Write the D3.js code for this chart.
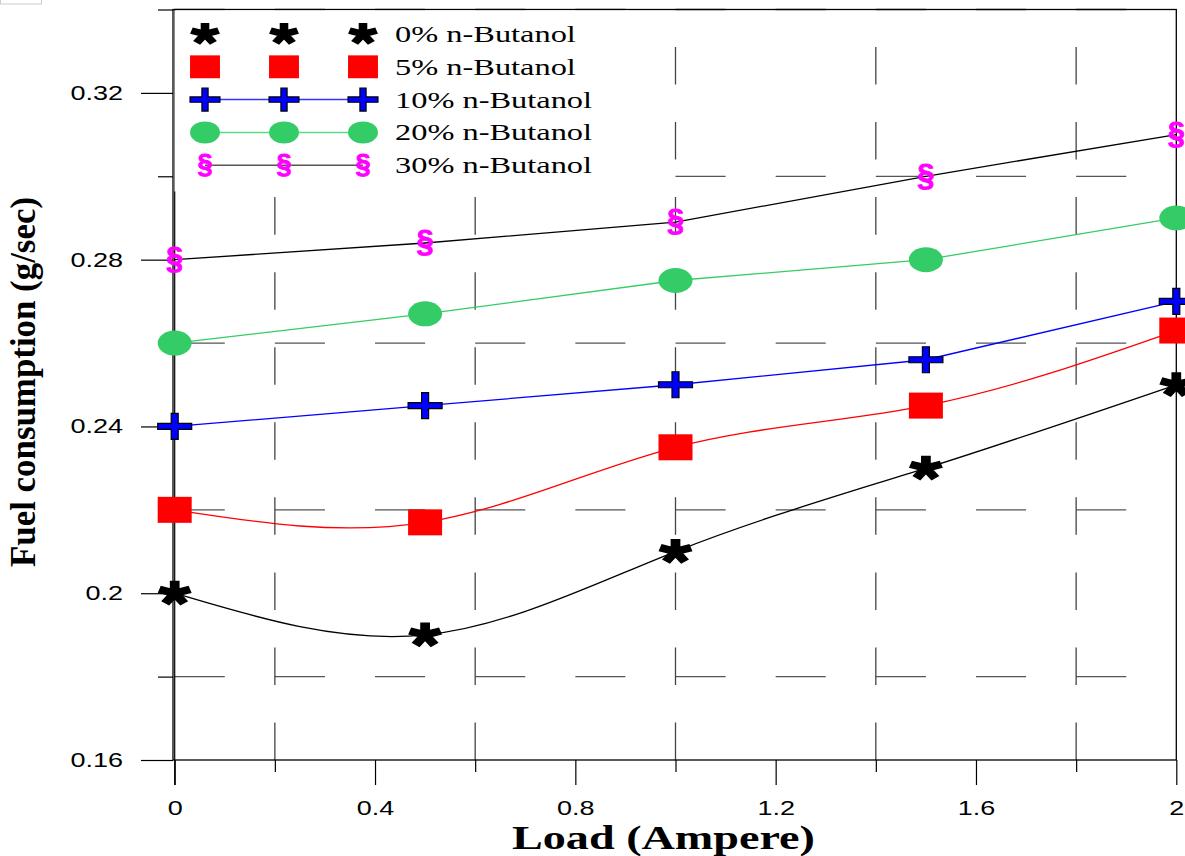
<!DOCTYPE html>
<html><head><meta charset="utf-8">
<script src="https://cdn.jsdelivr.net/npm/d3@7"></script>
<style>body{margin:0;background:#fff}svg{display:block}</style>
</head><body>
<svg id="c" width="1185" height="856"></svg>
<script>
// ---- data ----
const loads = [0, 0.5, 1, 1.5, 2];
const fuel0  = [0.20, 0.19, 0.21, 0.23, 0.25];
const fuel5  = [0.22, 0.217, 0.235, 0.245, 0.263];
const fuel10 = [0.24, 0.245, 0.25, 0.256, 0.27];
const fuel20 = [0.26, 0.267, 0.275, 0.28, 0.29];
const fuel30 = [0.28, 0.284, 0.289, 0.30, 0.31];
const seriesNames = ["0% n-Butanol", "5% n-Butanol", "10% n-Butanol", "20% n-Butanol", "30% n-Butanol"];
const xMajorTicks = [0, 0.4, 0.8, 1.2, 1.6, 2];
const xMinorTicks = [0.2, 0.6, 1.0, 1.4, 1.8];
const yMajorTicks = [0.16, 0.2, 0.24, 0.28, 0.32];
const yMinorTicks = [0.18, 0.22, 0.26, 0.30, 0.34];
const xTitle = "Load (Ampere)";
const yTitle = "Fuel consumption (g/sec)";

const series = [
  {name: seriesNames[0], values: fuel0,  color: "#000000", curve: d3.curveNatural, marker: "asterisk", legendLine: null},
  {name: seriesNames[1], values: fuel5,  color: "#ff0000", curve: d3.curveNatural, marker: "square",   legendLine: null},
  {name: seriesNames[2], values: fuel10, color: "#0000ff", curve: d3.curveLinear,  marker: "plus",     legendLine: "#3333ff"},
  {name: seriesNames[3], values: fuel20, color: "#33cc66", curve: d3.curveLinear,  marker: "circle",   legendLine: "#55dd88"},
  {name: seriesNames[4], values: fuel30, color: "#000000", curve: d3.curveLinear,  marker: "section",  legendLine: "#555555"}
];

const svg = d3.select("#c");
const x = d3.scaleLinear().domain([0, 2]).range([174.7, 1176.3]);
const y = d3.scaleLinear().domain([0.16, 0.34]).range([760, 9.5]);

function stretch(sel, f) {
  sel.each(function () {
    const w = this.getComputedTextLength();
    this.setAttribute("textLength", w * f);
    this.setAttribute("lengthAdjust", "spacingAndGlyphs");
  });
}

// small grey box in the corner
svg.append("rect").attr("x", 0.5).attr("y", -1).attr("width", 41).attr("height", 5)
  .attr("fill", "none").attr("stroke", "#cccccc");

// ---- dashed grid ----
const dashX = x(0.1) - x(0);
svg.append("g").selectAll("line").data(yMinorTicks).join("line")
  .attr("x1", x(0)).attr("x2", x(2)).attr("y1", d => y(d)).attr("y2", d => y(d))
  .attr("stroke", "#555").attr("stroke-width", 1.3)
  .attr("stroke-dasharray", `${dashX},${dashX}`);
const dashY = (y(0.16) - y(0.34)) / 20;
svg.append("g").selectAll("line").data(xMinorTicks).join("line")
  .attr("x1", d => x(d)).attr("x2", d => x(d)).attr("y1", y(0.16)).attr("y2", y(0.34))
  .attr("stroke", "#444").attr("stroke-width", 1.3)
  .attr("stroke-dasharray", `${dashY},${dashY}`);

// vertical line at x=0
svg.append("line").attr("x1", x(0)).attr("x2", x(0)).attr("y1", y(0.34)).attr("y2", 785)
  .attr("stroke", "#000").attr("stroke-width", 1.2);

// ---- axes ----
const fontSans = "'Liberation Sans', Arial, sans-serif";
const fontSerif = "'Liberation Serif', 'Times New Roman', serif";

const gx = svg.append("g").attr("transform", `translate(0,${y(0.16)})`)
  .call(d3.axisBottom(x).tickValues(xMajorTicks).tickSize(25).tickPadding(16).tickFormat(d => String(d)));
gx.select(".domain").remove();
gx.selectAll("line").attr("stroke", "#000").attr("stroke-width", 1.2);
gx.selectAll("text").attr("font-family", fontSans).attr("font-size", 20).attr("fill", "#000").call(stretch, 1.35);

const gxm = svg.append("g").attr("transform", `translate(0,${y(0.16)})`)
  .call(d3.axisBottom(x).tickValues(xMinorTicks).tickSize(12).tickFormat(""));
gxm.select(".domain").remove();
gxm.selectAll("line").attr("stroke", "#000").attr("stroke-width", 1.2);

const gy = svg.append("g").attr("transform", `translate(173,0)`)
  .call(d3.axisLeft(y).tickValues(yMajorTicks).tickSize(32).tickPadding(18).tickFormat(d => String(d)));
gy.select(".domain").remove();
gy.selectAll("line").attr("stroke", "#000").attr("stroke-width", 1.2);
gy.selectAll("text").attr("font-family", fontSans).attr("font-size", 20).attr("fill", "#000").call(stretch, 1.35);

const gym = svg.append("g").attr("transform", `translate(173,0)`)
  .call(d3.axisLeft(y).tickValues(yMinorTicks).tickSize(15).tickFormat(""));
gym.select(".domain").remove();
gym.selectAll("line").attr("stroke", "#000").attr("stroke-width", 1.2);

// frame
svg.append("rect").attr("x", 173).attr("y", y(0.34)).attr("width", x(2) - 173).attr("height", y(0.16) - y(0.34))
  .attr("fill", "none").attr("stroke", "#000").attr("stroke-width", 1.3);

// ---- markers ----
function drawMarker(g, type, cx, cy, s, color) {
  if (type === "asterisk") {
    const r = 12.5;
    let d = "";
    [-90, -18, 54, 126, 198].forEach(a => {
      const rad = a * Math.PI / 180;
      d += `M0,0L${r * Math.cos(rad)},${r * Math.sin(rad)}`;
    });
    g.append("path").attr("d", d).attr("transform", `translate(${cx},${cy}) scale(${1.3 * s},${s})`)
      .attr("stroke", "#000").attr("stroke-width", 7.5).attr("fill", "none");
  } else if (type === "square") {
    const w = 34 * s, h = 26 * s;
    g.append("rect").attr("x", cx - w / 2).attr("y", cy - h / 2).attr("width", w).attr("height", h)
      .attr("fill", "#ff0000");
  } else if (type === "circle") {
    g.append("ellipse").attr("cx", cx).attr("cy", cy).attr("rx", 17 * s).attr("ry", 12.5 * s)
      .attr("fill", "#33cc66");
  } else if (type === "plus") {
    const W = 17 * s, H = 13 * s, th = 3 * s, tv = 3.5 * s;
    const p = [[-tv, -H], [tv, -H], [tv, -th], [W, -th], [W, th], [tv, th], [tv, H], [-tv, H], [-tv, th], [-W, th], [-W, -th], [-tv, -th]];
    g.append("path").attr("d", "M" + p.map(q => `${cx + q[0]},${cy + q[1]}`).join("L") + "Z")
      .attr("fill", "#0000ff").attr("stroke", "#000").attr("stroke-width", 1.2);
  } else if (type === "section") {
    const fs = 31 * s;
    g.append("text").attr("x", cx).attr("y", cy + 0.3 * fs).attr("text-anchor", "middle")
      .attr("font-family", fontSans).attr("font-weight", "bold").attr("font-size", fs)
      .attr("fill", "#ff00ff").attr("stroke", "#ff00ff").attr("stroke-width", 0.9).text("§");
  }
}

// ---- lines ----
series.forEach(sr => {
  const line = d3.line().x((d, i) => x(loads[i])).y(d => y(d)).curve(sr.curve);
  svg.append("path").attr("d", line(sr.values)).attr("fill", "none")
    .attr("stroke", sr.color).attr("stroke-width", 1.3);
});
series.forEach(sr => {
  const g = svg.append("g");
  sr.values.forEach((v, i) => drawMarker(g, sr.marker, x(loads[i]), y(v), 1, sr.color));
});

// ---- legend ----
svg.append("rect").attr("x", 174.5).attr("y", 10.5).attr("width", 455).attr("height", 181).attr("fill", "#fff");
const legX = [205, 284, 363];
series.forEach((sr, k) => {
  const cy = 34 + k * 32.8;
  const g = svg.append("g");
  if (sr.legendLine) {
    g.append("line").attr("x1", legX[0]).attr("x2", legX[2]).attr("y1", cy).attr("y2", cy)
      .attr("stroke", sr.legendLine).attr("stroke-width", 1.5);
  }
  legX.forEach(lx => drawMarker(g, sr.marker, lx, cy, 0.88, sr.color));
  g.append("text").attr("x", 395).attr("y", cy + 8).attr("font-family", fontSerif).attr("font-size", 24)
    .attr("fill", "#000").text(sr.name).call(stretch, 1.35);
});

// ---- titles ----
svg.append("text").attr("x", 663.5).attr("y", 849).attr("text-anchor", "middle")
  .attr("font-family", fontSerif).attr("font-weight", "bold").attr("font-size", 34)
  .attr("textLength", 303).attr("lengthAdjust", "spacingAndGlyphs").text(xTitle);
svg.append("text").attr("transform", "translate(35,382) rotate(-90)").attr("text-anchor", "middle")
  .attr("font-family", fontSerif).attr("font-weight", "bold").attr("font-size", 36)
  .attr("textLength", 370).attr("lengthAdjust", "spacingAndGlyphs").text(yTitle);
</script>
</body></html>
